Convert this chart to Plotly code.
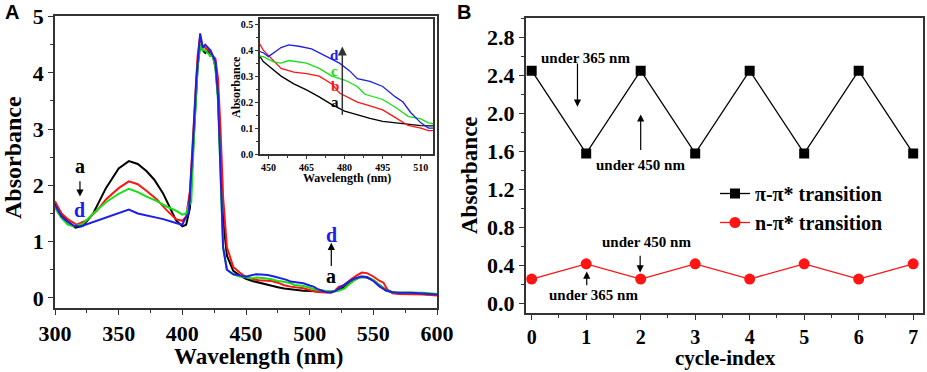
import plotly.graph_objects as go

# ---------------- Panel A data (UV-vis spectra) ----------------
wl_a = [300,305,310,316,322,330,340,350,358,365,372,378,385,390,395,400,403,406,409,412,414,416,418,420,422,424,426,428,430,432,435,440,445,448,450,455,460,465,470,475,480,485,490,495,500,505,510,513,515,520,525,530,535,540,545,550,555,560,565,570,580,590,600]
abs_a = [1.68,1.5,1.36,1.25,1.28,1.5,1.95,2.3,2.43,2.38,2.25,2.1,1.85,1.6,1.38,1.27,1.3,1.6,2.9,4.1,4.5,4.4,4.35,4.4,4.3,4.3,4.1,3.6,2.5,1.4,0.75,0.48,0.4,0.356,0.34,0.3,0.27,0.247,0.22,0.19,0.165,0.15,0.137,0.126,0.12,0.114,0.109,0.108,0.108,0.12,0.16,0.24,0.32,0.37,0.36,0.31,0.22,0.14,0.1,0.08,0.08,0.07,0.05]

wl_b = [300,305,310,317,325,333,340,350,358,365,372,380,388,395,400,403,406,409,412,414,416,418,420,422,424,426,428,430,432,435,440,445,448,452,455,460,465,470,475,478,480,485,490,495,500,505,510,513,517,520,523,527,532,537,541,545,550,555,558,561,565,570,580,590,600]
abs_b = [1.72,1.5,1.4,1.3,1.38,1.55,1.75,1.95,2.07,2.02,1.9,1.75,1.55,1.4,1.37,1.45,1.9,3.2,4.3,4.65,4.45,4.45,4.4,4.4,4.3,4.25,3.9,3.0,1.8,0.9,0.55,0.45,0.40,0.36,0.33,0.315,0.31,0.30,0.27,0.235,0.225,0.2,0.185,0.17,0.14,0.11,0.1,0.09,0.09,0.13,0.2,0.22,0.32,0.4,0.45,0.44,0.38,0.3,0.27,0.15,0.08,0.07,0.07,0.06,0.04]

wl_c = [300,305,310,315,322,330,340,350,358,365,372,380,388,395,400,403,405,407,409,412,414,416,418,420,422,424,426,428,430,432,435,440,445,448,452,455,458,462,465,470,475,480,485,488,492,495,500,505,510,513,518,522,527,532,537,541,545,550,555,560,565,570,580,590,600]
abs_c = [1.6,1.42,1.3,1.27,1.32,1.5,1.7,1.85,1.94,1.88,1.8,1.72,1.62,1.55,1.48,1.5,1.65,1.7,2.8,4.1,4.5,4.4,4.4,4.35,4.3,4.3,4.1,3.5,2.2,0.9,0.5,0.42,0.38,0.375,0.355,0.35,0.36,0.355,0.35,0.33,0.30,0.285,0.26,0.23,0.22,0.21,0.18,0.145,0.135,0.12,0.11,0.12,0.16,0.26,0.34,0.38,0.37,0.32,0.22,0.13,0.1,0.1,0.1,0.09,0.07]

wl_d = [300,305,310,315,320,330,345,358,365,375,385,395,400,402,405,408,411,414,416,418,420,422,424,426,428,430,432,435,440,445,448,450,452,455,458,462,467,472,478,482,485,490,495,500,503,506,510,513,517,520,525,530,535,540,545,550,555,560,565,570,580,590,600]
abs_d = [1.65,1.45,1.35,1.28,1.27,1.35,1.48,1.57,1.5,1.45,1.4,1.33,1.3,1.4,1.5,2.6,3.9,4.7,4.45,4.5,4.45,4.4,4.3,4.2,3.6,2.3,0.9,0.5,0.42,0.40,0.39,0.375,0.39,0.41,0.42,0.415,0.405,0.38,0.35,0.32,0.29,0.28,0.26,0.22,0.2,0.16,0.12,0.10,0.1,0.12,0.2,0.28,0.34,0.38,0.37,0.3,0.2,0.13,0.1,0.09,0.09,0.08,0.06]

spectra_names = ["a", "b", "c", "d"]
spectra_colors = ["#000000", "#ff1414", "#14e014", "#1e1ee6"]

# ---------------- Panel B data (cycling) ----------------
cycle_index = [0, 1, 2, 3, 4, 5, 6, 7]
pi_pi_abs = [2.45, 1.58, 2.45, 1.58, 2.45, 1.58, 2.45, 1.58]
n_pi_abs = [0.26, 0.42, 0.26, 0.42, 0.26, 0.42, 0.26, 0.42]

SERIF = "Liberation Serif"
AXC = "#333333"
W, H = 927, 372

fig = go.Figure()
spectra = [(wl_a, abs_a), (wl_b, abs_b), (wl_c, abs_c), (wl_d, abs_d)]
for (wl, ab), nm, col in zip(spectra, spectra_names, spectra_colors):
    fig.add_trace(go.Scatter(x=wl, y=ab, mode="lines", name=nm, showlegend=False,
                             line=dict(color=col, width=2), xaxis="x", yaxis="y"))
for (wl, ab), nm, col in zip(spectra, spectra_names, spectra_colors):
    fig.add_trace(go.Scatter(x=wl, y=ab, mode="lines", name=nm, showlegend=False,
                             line=dict(color=col, width=1.3), xaxis="x3", yaxis="y3"))

fig.add_trace(go.Scatter(x=cycle_index, y=pi_pi_abs, mode="lines+markers", name="π-π* transition",
                         line=dict(color="black", width=1.3),
                         marker=dict(symbol="square", size=10, color="black"),
                         xaxis="x2", yaxis="y2"))
fig.add_trace(go.Scatter(x=cycle_index, y=n_pi_abs, mode="lines+markers", name="n-π* transition",
                         line=dict(color="#ff1414", width=1.3),
                         marker=dict(symbol="circle", size=11, color="#ff1414"),
                         xaxis="x2", yaxis="y2"))

def axis(domain, rng, dtick, minor, size=22, anchor=None, fmt=None, tl=5, mtl=3):
    d = dict(domain=domain, range=rng, showline=True, mirror=True, linecolor=AXC, linewidth=1.5,
             ticks="outside", ticklen=tl, tickwidth=1.3, tickcolor=AXC, showgrid=False, zeroline=False,
             tickfont=dict(family=SERIF, size=size, color="black", weight="bold"), automargin=False,
             anchor=anchor, dtick=dtick, tick0=0,
             minor=dict(dtick=minor, tick0=0, ticks="outside", ticklen=mtl, tickcolor=AXC, tickwidth=1.2))
    if fmt:
        d["tickformat"] = fmt
    return d

fig.update_layout(
    width=W, height=H, margin=dict(l=0, r=0, t=0, b=0),
    paper_bgcolor="white", plot_bgcolor="white",
    font=dict(family=SERIF, color="black"),
    xaxis=axis([55/W, 437/W], [300, 600], 50, 25, anchor="y"),
    yaxis=axis([1-308/H, 1-16/H], [-0.18, 5.01], 1, 0.5, anchor="x"),
    xaxis2=axis([525.7/W, 923/W], [-0.11, 7.18], 1, 0.5, size=20, anchor="y2"),
    yaxis2=axis([1-313.3/H, 1-18.3/H], [-0.1, 3.0], 0.4, 0.2, anchor="x2", fmt=".1f"),
    xaxis3=axis([260/W, 433/W], [446.7, 514.8], 15, 7.5, size=10, anchor="y3", tl=3, mtl=2),
    yaxis3=axis([1-154/H, 1-19/H], [0, 0.52], 0.1, 0.05, size=10, anchor="x3", fmt=".1f", tl=3, mtl=2),
    legend=dict(x=715/W, y=1-174/H, xanchor="left", yanchor="top", bgcolor="rgba(0,0,0,0)",
                font=dict(family=SERIF, size=20, color="black", weight="bold"), tracegroupgap=0),
)

ann = []
def ptxt(px, py, t, size, angle=0, family=SERIF, col="black"):
    ann.append(dict(x=px/W, y=1-py/H, xref="paper", yref="paper", text=t, showarrow=False,
                    textangle=angle, xanchor="center", yanchor="middle",
                    font=dict(family=family, size=size, color=col, weight="bold")))
def txt(x, y, t, xr, yr, col="black", size=20):
    ann.append(dict(x=x, y=y, text=t, xref=xr, yref=yr, showarrow=False,
                    font=dict(family=SERIF, size=size, color=col, weight="bold")))
def arrow(x0, y0, x1, y1, xr, yr, w=1.2, col="black"):
    ann.append(dict(x=x1, y=y1, ax=x0, ay=y0, xref=xr, yref=yr, axref=xr, ayref=yr, text="",
                    showarrow=True, arrowhead=2, arrowsize=1.2, arrowwidth=w, arrowcolor=col))

# Panel labels
ptxt(12, 12, "A", 20, family="Liberation Sans")
ptxt(464, 12, "B", 20, family="Liberation Sans")

# Axis titles
ptxt(258, 356, "Wavelength (nm)", 23)
ptxt(13, 158, "Absorbance", 24, angle=-90)
ptxt(725, 358, "cycle-index", 21)
ptxt(469, 175, "Absorbance", 23, angle=-90)
ptxt(347, 178, "Wavelength (nm)", 12)
ptxt(236, 87, "Absorbance", 12, angle=-90)

# Panel A annotations
txt(319.6, 2.35, "a", "x", "y")
arrow(319.6, 2.1, 319.6, 1.8, "x", "y")
txt(319.6, 1.57, "d", "x", "y", col="#1e1ee6")
txt(517, 1.12, "d", "x", "y", col="#1e1ee6")
arrow(517, 0.54, 517, 0.98, "x", "y")
txt(517, 0.38, "a", "x", "y")

# Inset annotations
txt(476.2, 0.38, "d", "x3", "y3", col="#1e1ee6", size=15)
txt(476.2, 0.318, "c", "x3", "y3", col="#14e014", size=15)
txt(476.2, 0.262, "b", "x3", "y3", col="#ff1414", size=15)
txt(476.2, 0.2, "a", "x3", "y3", size=15)
arrow(479.1, 0.145, 479.1, 0.414, "x3", "y3", w=1.5, col="#333333")

# Panel B annotations
txt(0.99, 2.586, "under 365 nm", "x2", "y2", size=15)
arrow(0.84, 2.54, 0.84, 2.07, "x2", "y2")
txt(2.0, 1.46, "under 450 nm", "x2", "y2", size=15)
arrow(2.0, 1.60, 2.0, 1.99, "x2", "y2")
txt(2.1, 0.645, "under 450 nm", "x2", "y2", size=15)
arrow(1.99, 0.52, 1.99, 0.33, "x2", "y2")
txt(1.13, 0.096, "under 365 nm", "x2", "y2", size=15)
arrow(1.01, 0.18, 1.01, 0.34, "x2", "y2")

fig.update_layout(annotations=ann)
fig.write_html("out.html", config={"displayModeBar": False},
               post_script="document.body.style.margin='0';document.body.style.padding='0';")
